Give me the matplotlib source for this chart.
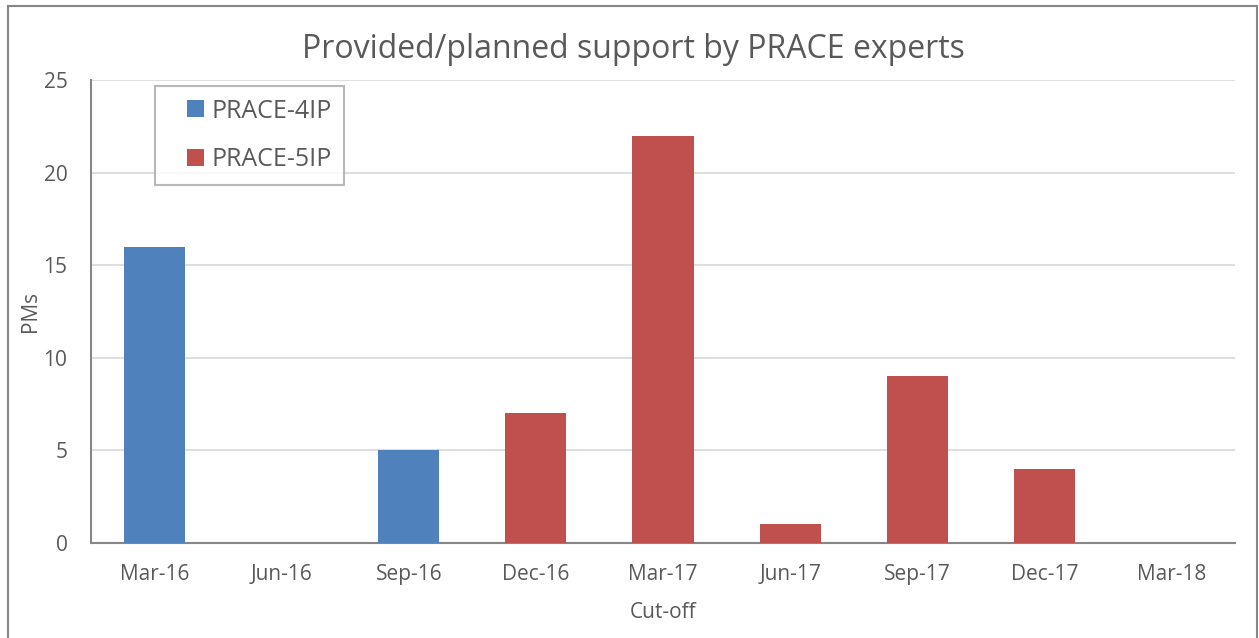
import numpy as np
import matplotlib.pyplot as plt
from matplotlib.patches import Rectangle
from matplotlib.container import BarContainer
from matplotlib.legend_handler import HandlerPatch, update_from_first_child

# Data
cutoffs = ["Mar-16", "Jun-16", "Sep-16", "Dec-16", "Mar-17",
           "Jun-17", "Sep-17", "Dec-17", "Mar-18"]
prace_4ip = [16, 0, 5, 0, 0, 0, 0, 0, 0]
prace_5ip = [0, 0, 0, 7, 22, 1, 9, 4, 0]

plt.rcParams['font.family'] = ['Open Sans', 'DejaVu Sans']
text_col = "#595959"

W, H = 1259, 638
fig = plt.figure(figsize=(W / 100, H / 100), dpi=100)
ax = fig.add_axes([91 / W, 1 - 543 / H, (1235 - 91) / W, (543 - 80) / H])

# outer chart border
fig.patches.append(Rectangle((8 / W, -0.01), (1257 - 8) / W, 1 - 6 / H + 0.01,
                             transform=fig.transFigure, fill=False,
                             edgecolor="#868686", linewidth=1.5))

x = np.arange(len(cutoffs))
ax.bar(x, prace_4ip, width=0.48, color="#4F81BD", label="PRACE-4IP", zorder=3)
ax.bar(x, prace_5ip, width=0.48, color="#C0504D", label="PRACE-5IP", zorder=3)

ax.set_xlim(-0.5, len(cutoffs) - 0.5)
ax.set_ylim(0, 25)
ax.set_yticks([0, 5, 10, 15, 20, 25])
ax.set_xticks(x)
ax.set_xticklabels(cutoffs)
ax.grid(axis="y", color="#D9D9D9", linewidth=1.2, zorder=0)
ax.tick_params(axis="both", length=0, labelsize=15, labelcolor=text_col)
ax.tick_params(axis="x", pad=15)
ax.tick_params(axis="y", pad=17)

for s in ["top", "right"]:
    ax.spines[s].set_visible(False)
ax.spines["left"].set_color("#868686")
ax.spines["bottom"].set_color("#868686")
ax.spines["left"].set_linewidth(1.5)
ax.spines["bottom"].set_linewidth(1.5)

ax.set_xlabel("Cut-off", fontsize=15, color=text_col, labelpad=12)
ax.set_ylabel("PMs", fontsize=15, color=text_col, labelpad=2)
fig.text(0.5 + 8 / W / 2, 1 - 50 / H, "Provided/planned support by PRACE experts",
         ha="center", va="center", fontsize=23, color=text_col)


# small square marker placed at the right end of the handle box
def square(legend, orig_handle, xdescent, ydescent, width, height, fontsize):
    s = 17 * 72 / 100
    return Rectangle((-xdescent + width - s, -ydescent + (height - s) / 2), s, s)


leg = ax.legend(loc="upper left", bbox_to_anchor=((155 - 91) / 1144, 1 - 6 / 463),
                fontsize=18, frameon=True, fancybox=False, handlelength=1.45,
                handletextpad=0.3, labelspacing=0.95,
                borderpad=0.5, borderaxespad=0, labelcolor=text_col,
                handler_map={BarContainer: HandlerPatch(
                    patch_func=square, update_func=update_from_first_child)})
leg.get_frame().set_edgecolor("#A6A6A6")
leg.get_frame().set_linewidth(1.5)

fig.savefig("out.png", dpi=100)
